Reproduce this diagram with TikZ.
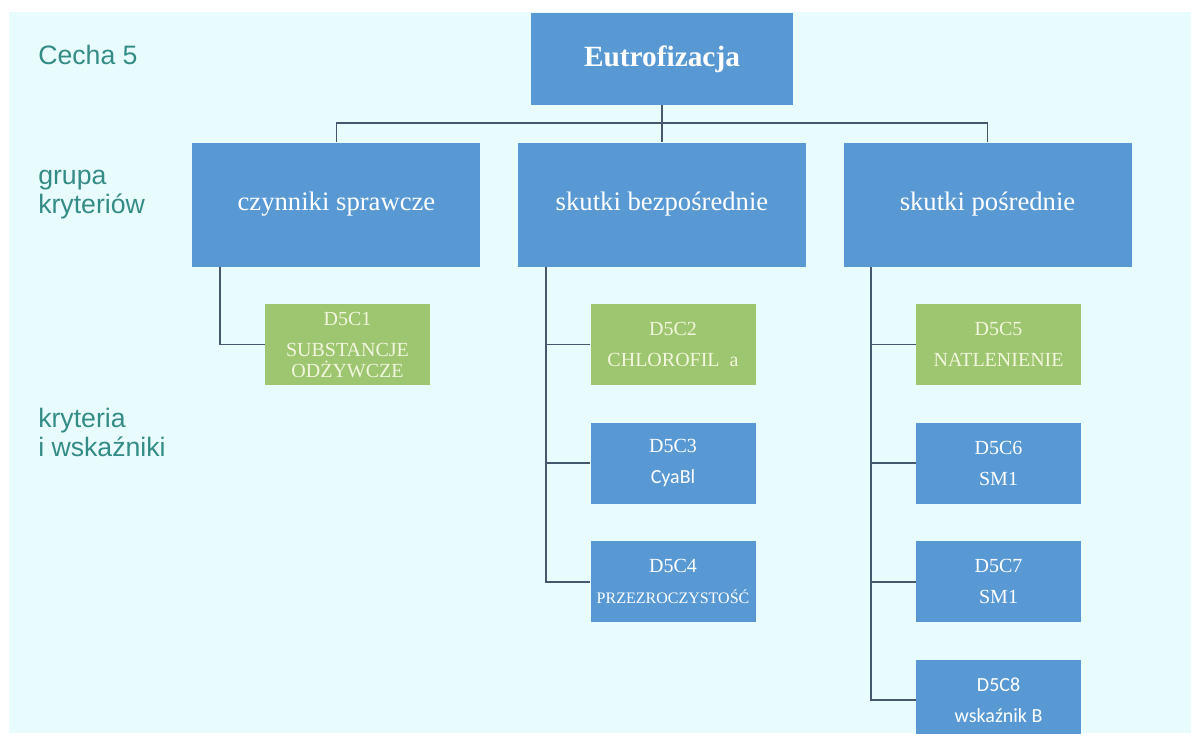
\documentclass[tikz,border=0pt]{standalone}
\usepackage{fontspec}
\setmainfont{Liberation Serif}
\newfontfamily\arialfont{Liberation Sans}
\newfontfamily\calibrifont{Carlito}
\usetikzlibrary{positioning}

\definecolor{tlo}{RGB}{233,252,253}
\definecolor{niebieski}{RGB}{88,153,212}
\definecolor{zielony}{RGB}{158,197,112}
\definecolor{kremowy}{RGB}{242,246,222}
\definecolor{linia}{RGB}{68,88,110}
\definecolor{morski}{RGB}{52,140,134}

\begin{document}
\begin{tikzpicture}[
        node distance=27.75pt,
        % Boxes
        topbox/.style={rectangle, fill=niebieski, text=white, minimum width=196.5pt, minimum height=69pt, font=\fontsize{22}{26}\selectfont\bfseries},
        groupbox/.style={rectangle, fill=niebieski, text=white, minimum width=216pt, minimum height=93pt, font=\fontsize{20}{24}\selectfont},
        critbox/.style={rectangle, fill=niebieski, text=white, minimum width=123.75pt, minimum height=60.75pt, align=center, inner sep=2pt, font=\fontsize{15}{23.25}\selectfont},
        greenbox/.style={critbox, fill=zielony, text=kremowy},
        % Connectors
        link/.style={draw=linia, line width=1.3pt},
        % Labels on the left (base = last line)
        sidelbl/.style={anchor=base west, align=left, inner sep=0pt, text=morski, font=\arialfont\fontsize{20}{21.75}\selectfont}
    ]

    % Page and background
    \useasboundingbox (0,0) rectangle (893.25pt,-549.75pt);
    \clip (0,0) rectangle (893.25pt,-549.75pt);
    \fill[white] (0,0) rectangle (893.25pt,-549.75pt);
    \fill[tlo] (6.75pt,-9pt) rectangle (893.25pt,-549.75pt);

    % Left side labels
    \node[sidelbl] (cecha) at (28.5pt,-48pt) {Cecha 5};
    \node[sidelbl] (grupa) at (28.5pt,-159.75pt) {grupa\\kryteriów};
    \node[sidelbl] (kryt) at (28.5pt,-342pt) {kryteria\\i wskaźniki};

    % Top and criteria groups
    \node[topbox] (eutro) at (496.5pt,-44.25pt) {Eutrofizacja};
    \node[groupbox, below=of eutro] (bezp) {skutki bezpośrednie};
    \node[groupbox, left=of bezp] (czynniki) {czynniki sprawcze};
    \node[groupbox, right=of bezp] (posr) {skutki pośrednie};

    % Criteria: czynniki sprawcze
    \node[greenbox, anchor=north west] (d5c1) at ([xshift=54.4pt, yshift=-27.75pt]czynniki.south west) {D5C1\\SUBSTANCJE\\[-7.5pt]ODŻYWCZE};

    % Criteria: skutki bezpośrednie
    \node[greenbox, anchor=north west] (d5c2) at ([xshift=54.4pt, yshift=-27.75pt]bezp.south west) {D5C2\\CHLOROFIL~~a};
    \node[critbox, below=of d5c2] (d5c3) {D5C3\\{\calibrifont CyaBl}};
    \node[critbox, below=of d5c3] (d5c4) {D5C4\\{\fontsize{12}{14}\selectfont PRZEZROCZYSTOŚĆ}};

    % Criteria: skutki pośrednie
    \node[greenbox, anchor=north west] (d5c5) at ([xshift=54.4pt, yshift=-27.75pt]posr.south west) {D5C5\\NATLENIENIE};
    \node[critbox, below=of d5c5] (d5c6) {D5C6\\SM1};
    \node[critbox, below=of d5c6] (d5c7) {D5C7\\SM1};
    \node[critbox, below=of d5c7, font=\calibrifont\fontsize{15}{23.25}\selectfont] (d5c8) {D5C8\\wskaźnik B};

    % Top connectors
    \coordinate (bus) at ([yshift=-13.5pt]eutro.south);
    \draw[link] (eutro.south) -- (bus);
    \draw[link] (bus) -| (czynniki.north);
    \draw[link] (bus) -- (bezp.north);
    \draw[link] (bus) -| (posr.north);

    % Trunks
    \coordinate (trunk1) at ([xshift=21pt]czynniki.south west);
    \coordinate (trunk2) at ([xshift=21pt]bezp.south west);
    \coordinate (trunk3) at ([xshift=21pt]posr.south west);

    \draw[link] (trunk1) |- (d5c1.west);

    \draw[link] (trunk2) |- (d5c4.west);
    \draw[link] (d5c2.west) -- (d5c2.west -| trunk2);
    \draw[link] (d5c3.west) -- (d5c3.west -| trunk2);

    \draw[link] (trunk3) |- (d5c8.west);
    \draw[link] (d5c5.west) -- (d5c5.west -| trunk3);
    \draw[link] (d5c6.west) -- (d5c6.west -| trunk3);
    \draw[link] (d5c7.west) -- (d5c7.west -| trunk3);

\end{tikzpicture}
\end{document}
